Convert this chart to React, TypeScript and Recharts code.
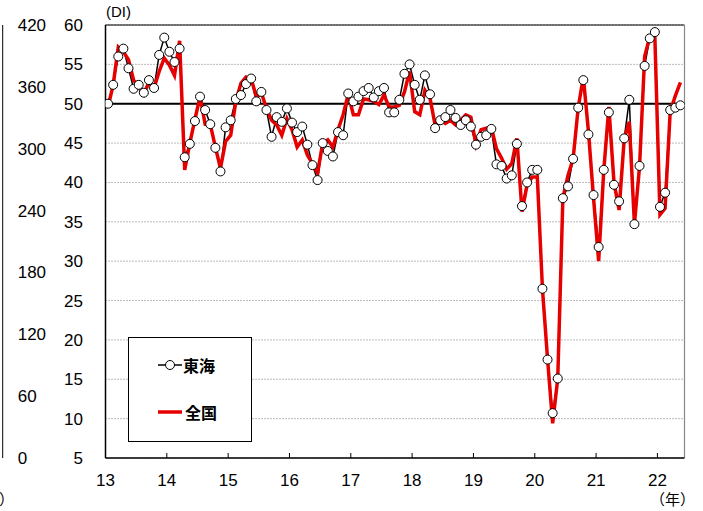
import React from 'react';
import { LineChart, Line, XAxis, YAxis, CartesianGrid, ReferenceLine } from 'recharts';

const FONT = "'Liberation Sans', Arial, 'Noto Sans CJK JP', sans-serif";
const JP_FONT = "'Noto Sans CJK JP', 'Liberation Sans', sans-serif";

// year labels on the x axis (20xx)
const yearLabels = ['13', '14', '15', '16', '17', '18', '19', '20', '21', '22'];

// 東海 DI, monthly from Jan 2013
const tokai = [
  50.0, 52.4, 56.0, 57.0, 54.5, 51.9, 52.4, 51.4, 53.0, 52.0, 56.2, 58.4, // 2013
  56.6, 55.3, 57.0, 43.2, 44.9, 47.8, 50.9, 49.2, 47.4, 44.4, 41.4, 47.0, // 2014
  47.9, 50.6, 51.1, 52.5, 53.2, 50.3, 51.5, 49.2, 45.8, 48.3, 47.7, 49.4, // 2015
  47.6, 46.4, 47.1, 44.8, 42.2, 40.3, 45.0, 44.0, 43.3, 46.4, 46.0, 51.3, // 2016
  50.3, 50.9, 51.6, 52.0, 50.8, 51.6, 52.0, 48.9, 48.9, 50.5, 53.8, 55.0, // 2017
  52.4, 50.5, 53.6, 51.2, 46.9, 47.9, 48.3, 49.2, 48.2, 47.3, 47.9, 47.1, // 2018
  44.8, 45.8, 46.0, 46.8, 42.3, 42.1, 40.5, 40.9, 44.9, 37.0, 40.0, 41.6, // 2019
  41.6, 26.5, 17.5, 10.7, 15.1, 38.0, 39.5, 43.0, 49.5, 53.0, 46.1, 38.4, // 2020
  31.8, 41.6, 48.9, 39.7, 37.6, 45.6, 50.5, 34.7, 42.1, 54.8, 58.3, 59.1, // 2021
  36.9, 38.7, 49.2, 49.5, 49.8, // 2022
];

// 全国 DI, monthly from Jan 2013
const zenkoku = [
  49.6, 52.4, 57.2, 56.6, 55.6, 53.0, 52.2, 51.2, 52.7, 52.0, 54.1, 55.8,
  54.9, 53.6, 58.0, 41.6, 45.0, 48.0, 50.9, 47.4, 47.4, 44.5, 41.8, 45.2,
  46.0, 50.3, 52.6, 53.4, 53.2, 50.9, 51.4, 49.4, 47.9, 47.3, 46.0, 48.1,
  46.7, 44.5, 45.4, 43.5, 42.4, 41.2, 45.0, 45.4, 44.5, 46.7, 48.6, 51.2,
  48.6, 48.6, 50.6, 50.5, 50.3, 49.9, 51.1, 49.6, 49.6, 49.8, 51.5, 54.1,
  49.0, 48.6, 51.7, 50.7, 47.3, 47.9, 47.5, 47.9, 47.3, 47.9, 48.6, 48.3,
  44.8, 46.7, 46.9, 47.0, 44.3, 43.1, 41.7, 42.4, 45.6, 36.3, 39.7, 40.7,
  40.7, 26.5, 17.6, 9.4, 15.1, 38.0, 40.9, 43.0, 49.5, 53.4, 46.5, 38.0,
  30.0, 41.5, 49.6, 40.0, 36.5, 45.5, 47.7, 34.7, 42.0, 56.0, 58.5, 58.5,
  35.9, 36.7, 49.0, 51.0, 52.7,
];

const diTicks = [5, 10, 15, 20, 25, 30, 35, 40, 45, 50, 55, 60];
// axis of the neighbouring (cut-off) chart on the left
const leftAxisTicks = [0, 60, 120, 180, 240, 300, 360, 420];

const data = tokai.map((v, i) => ({ i, tokai: v, zenkoku: zenkoku[i] }));
const yearTicks = yearLabels.map((_, k) => k * 12 - 0.5);
const X_MAX = 112.8;

const tickStyle = { fill: '#000', fontSize: 17, fontFamily: FONT };

export default function App() {
  return (
    <div style={{ position: 'absolute', left: 0, top: 0, width: 703, height: 511, background: '#fff', overflow: 'hidden' }}>
      {/* neighbouring chart, only its right axis is visible */}
      <div style={{ position: 'absolute', left: -97, top: 0 }}>
        <LineChart width={157} height={511} data={data} margin={{ top: 25, right: 0, bottom: 53, left: 0 }}>
          <XAxis dataKey="i" type="number" hide />
          <YAxis
            orientation="right"
            width={57.3}
            type="number"
            domain={[0, 420]}
            ticks={leftAxisTicks}
            interval={0}
            axisLine={{ stroke: '#000' }}
            tickLine={false}
            tickMargin={9}
            tick={tickStyle}
          />
          <Line dataKey="tokai" stroke="none" dot={false} isAnimationActive={false} />
        </LineChart>
      </div>
      <span style={{ position: 'absolute', left: -31, top: 488, fontSize: 15, fontFamily: JP_FONT }}>（年）</span>

      <div style={{ position: 'absolute', left: 0, top: 0 }}>
        <LineChart width={703} height={511} data={data} margin={{ top: 25, right: 18.5, bottom: 23, left: 0 }}>
          <CartesianGrid vertical={false} stroke="#777" strokeDasharray="1 2" />
          <XAxis
            dataKey="i"
            type="number"
            domain={[-0.5, X_MAX]}
            ticks={yearTicks}
            interval={0}
            tickFormatter={(v: number) => yearLabels[Math.round((v + 0.5) / 12)]}
            tickSize={-5}
            tickMargin={21}
            height={30}
            axisLine={{ stroke: '#000', strokeWidth: 1.5 }}
            tickLine={{ stroke: '#000' }}
            tick={tickStyle}
            allowDataOverflow
          />
          <YAxis
            domain={[5, 60]}
            ticks={diTicks}
            interval={0}
            width={105.5}
            tickLine={false}
            tickMargin={16.5}
            axisLine={{ stroke: '#000', strokeWidth: 1.5 }}
            tick={tickStyle}
          />
          <ReferenceLine y={60} stroke="#000" strokeWidth={1.2} />
          <ReferenceLine x={X_MAX} stroke="#888" strokeWidth={1.2} />
          <ReferenceLine y={50} stroke="#000" strokeWidth={2} />
          <Line
            dataKey="tokai"
            stroke="#000"
            strokeWidth={1.5}
            dot={{ r: 4.5, fill: '#fff', stroke: '#000', strokeWidth: 1 }}
            isAnimationActive={false}
          />
          <Line dataKey="zenkoku" stroke="#e60000" strokeWidth={3.5} dot={false} isAnimationActive={false} />
        </LineChart>
      </div>

      <span style={{ position: 'absolute', left: 106, top: 3, fontSize: 15, fontFamily: FONT }}>(DI)</span>
      <span style={{ position: 'absolute', left: 650, top: 488, fontSize: 15, fontFamily: JP_FONT }}>（年）</span>

      <div
        style={{
          position: 'absolute',
          left: 128,
          top: 337,
          width: 124,
          height: 105,
          boxSizing: 'border-box',
          border: '1px solid #000',
          background: '#fff',
          fontFamily: JP_FONT,
          fontSize: 16,
          fontWeight: 'bold',
        }}
      >
        <svg style={{ position: 'absolute', left: 29, top: 20 }} width={24} height={14}>
          <line x1={0} y1={7} x2={24} y2={7} stroke="#000" strokeWidth={1.5} />
          <circle cx={12} cy={7} r={4.5} fill="#fff" stroke="#000" strokeWidth={1} />
        </svg>
        <span style={{ position: 'absolute', left: 54, top: 15, lineHeight: '24px' }}>東海</span>
        <svg style={{ position: 'absolute', left: 29, top: 67 }} width={24} height={14}>
          <line x1={0} y1={7} x2={24} y2={7} stroke="#e60000" strokeWidth={3.5} />
        </svg>
        <span style={{ position: 'absolute', left: 56, top: 62, lineHeight: '24px' }}>全国</span>
      </div>
    </div>
  );
}
